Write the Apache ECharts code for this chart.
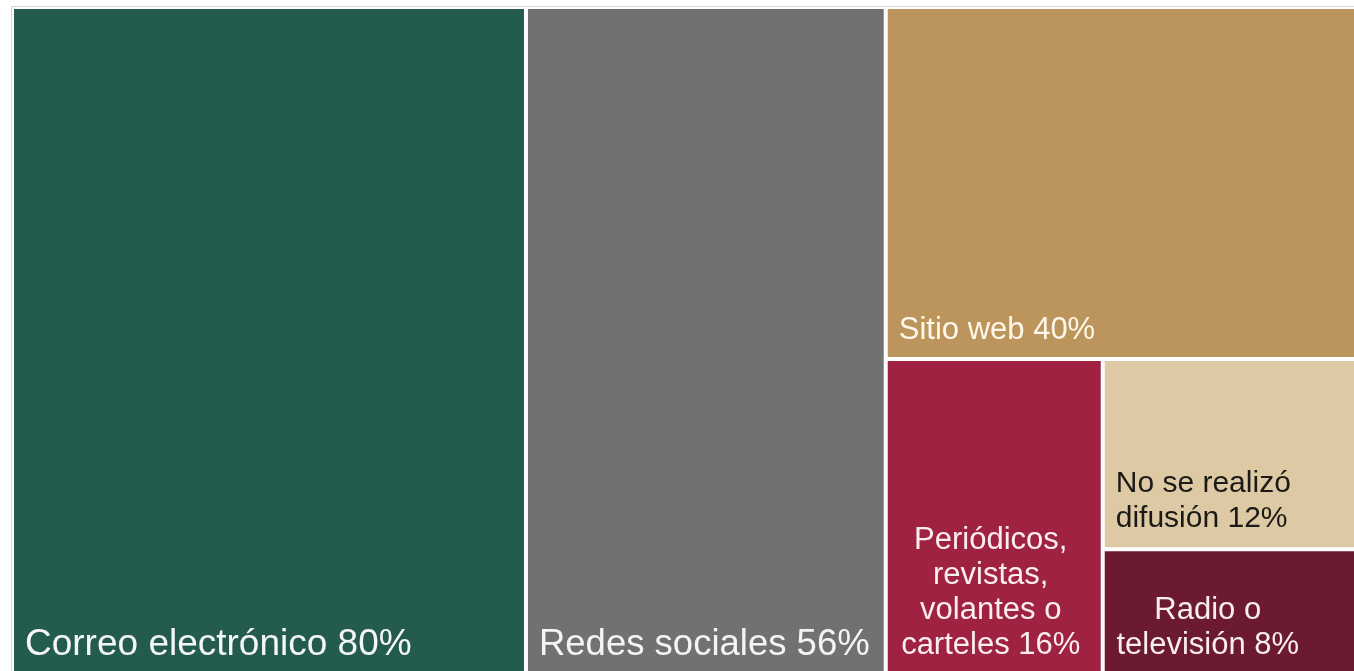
<!DOCTYPE html>
<html>
<head>
<meta charset="utf-8">
<title>Medios de difusión</title>
<script src="https://cdn.jsdelivr.net/npm/echarts@6/dist/echarts.min.js"></script>
<style>
  html, body { margin: 0; padding: 0; background: #ffffff; }
  #chart { width: 1354px; height: 671px; }
</style>
</head>
<body>
<div id="chart"></div>
<script>
// Channels used to publicise the activity (share of respondents, %)
const categories = [
  'Correo electrónico',
  'Redes sociales',
  'Sitio web',
  'Periódicos,\nrevistas,\nvolantes o\ncarteles',
  'No se realizó\ndifusión',
  'Radio o\ntelevisión'
];
const values = [80, 56, 40, 16, 12, 8];

// Institutional palette, one colour per channel
const palette = ['#235B4E', '#6F7271', '#BC955C', '#9F2241', '#DDC9A3', '#6B1A31'];

// Per-cell label styling (font size, colour, line alignment)
const labelStyles = [
  { fontSize: 37, color: '#f4f7f5' },
  { fontSize: 36.5, color: '#f4f4f4' },
  { fontSize: 31, color: '#fff8ea' },
  { fontSize: 31, color: '#fbeef0', lineHeight: 35, align: 'center', offset: [92, 0] },
  { fontSize: 30, color: '#1c1a16', lineHeight: 35 },
  { fontSize: 31, color: '#f8eef0', lineHeight: 35, align: 'center', offset: [92, 0] }
];

const data = categories.map((name, i) => ({
  name: name,
  value: values[i],
  itemStyle: { color: palette[i] },
  label: labelStyles[i]
}));

const chart = echarts.init(document.getElementById('chart'), null, { renderer: 'canvas' });

chart.setOption({
  backgroundColor: '#ffffff',
  animation: false,
  tooltip: { show: false },
  series: [{
    type: 'treemap',
    left: 11,
    top: 6,
    width: 1364,
    height: 671,
    squareRatio: 1,
    sort: 'desc',
    roam: false,
    nodeClick: false,
    breadcrumb: { show: false },
    label: {
      show: true,
      position: 'insideBottomLeft',
      distance: 11,
      padding: 0,
      overflow: 'none',
      fontFamily: '"Liberation Sans", Arial, sans-serif',
      formatter: p => p.name + ' ' + p.value + '%'
    },
    levels: [
      { itemStyle: { borderColor: '#d4d4d4', borderWidth: 1, gapWidth: 0 } },
      { itemStyle: { borderColor: '#ffffff', borderWidth: 2, gapWidth: 0 } }
    ],
    data: data
  }]
});
</script>
</body>
</html>
